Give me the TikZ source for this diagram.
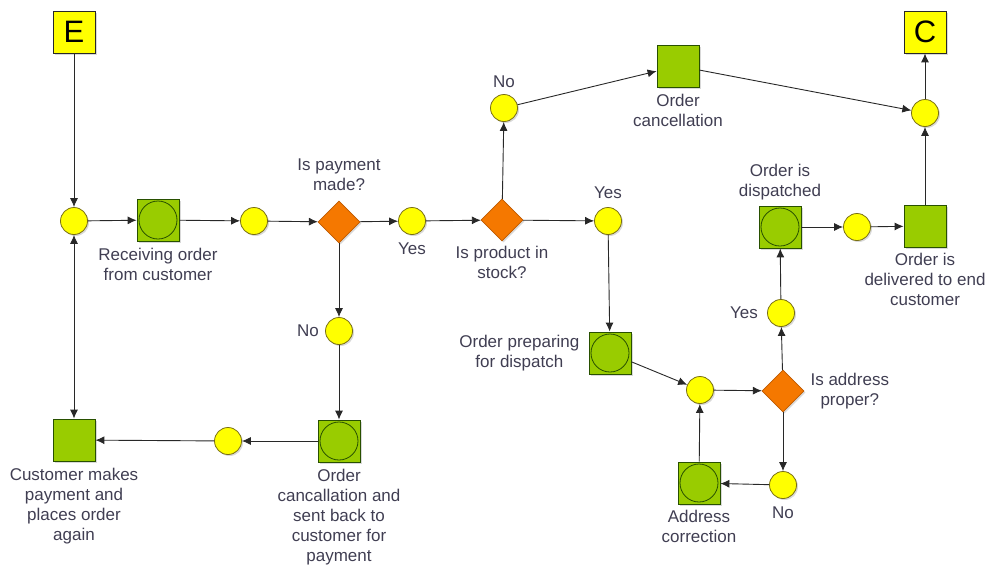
\documentclass[tikz,border=0pt]{standalone}
\usepackage{fontspec}
\setmainfont{Liberation Sans}
\usepackage{xcolor}
\usetikzlibrary{positioning,arrows.meta,shapes.geometric,shadows}

\definecolor{evtyellow}{RGB}{255,255,0}
\definecolor{evtedge}{RGB}{120,110,20}
\definecolor{actgreen}{RGB}{153,204,0}
\definecolor{actedge}{RGB}{40,80,0}
\definecolor{gateorange}{RGB}{245,120,0}
\definecolor{gateedge}{RGB}{190,90,0}
\definecolor{txtgray}{RGB}{64,62,82}
\definecolor{linegray}{RGB}{40,40,40}

\tikzset{
  shade/.style={drop shadow={shadow xshift=1.5pt, shadow yshift=-1.5pt, opacity=0.3}},
  conn/.style={circle, draw=evtedge, fill=evtyellow, line width=0.8pt,
    minimum size=27pt, inner sep=0pt, shade},
  task/.style={rectangle, draw=actedge, fill=actgreen, line width=0.8pt,
    minimum size=42pt, inner sep=0pt, shade},
  subtask/.style={task, path picture={
    \draw[actedge, line width=0.8pt] (path picture bounding box.center) circle (19pt);}},
  gate/.style={diamond, draw=gateedge, fill=gateorange, line width=0.8pt,
    minimum size=42pt, inner sep=0pt, shade},
  term/.style={rectangle, draw=linegray, fill=evtyellow, line width=0.8pt,
    minimum size=42pt, inner sep=0pt, font=\fontsize{31}{31}\selectfont, shade},
  caption/.style={align=center, text=txtgray, inner sep=1pt,
    font=\fontsize{17}{20}\selectfont},
  flow/.style={draw=linegray, line width=0.9pt, -{Latex[length=9pt,width=8pt]}},
  flow2/.style={flow, {Latex[length=9pt,width=8pt]}-{Latex[length=9pt,width=8pt]}}
}

\begin{document}
\begin{tikzpicture}[x=1pt,y=-1pt]
\useasboundingbox (0,0) rectangle (991,566);

% start and end markers
\node[term] (start) at (74,32) {E};
\node[term] (finish) at (925,32) {C};

% main row
\node[conn] (c1) at (74,221) {};
\node[subtask] (recv) at (158,220) {};
\node[conn] (c2) at (254,221) {};
\node[gate] (paid) at (339,222) {};
\node[conn] (c3) at (412,221) {};
\node[gate] (stock) at (502,220) {};
\node[conn] (c6) at (608,221) {};

% cancellation branch
\node[conn] (c4) at (504,108) {};
\node[task] (cancel) at (678,66) {};
\node[conn] (c5) at (925,113) {};

% dispatch branch
\node[subtask] (prep) at (610,353) {};
\node[conn] (c7) at (700,390) {};
\node[gate] (addr) at (783,391) {};
\node[conn] (c8) at (783,485) {};
\node[subtask] (fix) at (699,483) {};
\node[conn] (c9) at (781,313) {};
\node[subtask] (sent) at (780,227) {};
\node[conn] (c10) at (857,227) {};
\node[task] (deliv) at (925,226) {};

% payment failure branch
\node[conn] (c12) at (339,331) {};
\node[subtask] (back) at (339,441) {};
\node[conn] (c11) at (228,441) {};
\node[task] (cust) at (74,440) {};

% captions
\node[caption, below=6pt of recv] (recvtxt) {Receiving order\\from customer};
\node[caption, above=9pt of paid] (paidtxt) {Is payment\\made?};
\node[caption, below=7pt of c3] (yes1) {Yes};
\node[caption, below=4pt of stock] (stocktxt) {Is product in\\stock?};
\node[caption, above=5pt of c4] (no1) {No};
\node[caption, below=6pt of cancel] (canceltxt) {Order\\cancellation};
\node[caption, above=7pt of c6] (yes2) {Yes};
\node[caption, left=8pt of prep] (preptxt) {Order preparing\\for dispatch};
\node[caption, right=5pt of addr] (addrtxt) {Is address\\proper?};
\node[caption, below=7pt of c8] (no2) {No};
\node[caption, below=5pt of fix] (fixtxt) {Address\\correction};
\node[caption, left=8pt of c9] (yes3) {Yes};
\node[caption, above=4pt of sent] (senttxt) {Order is\\dispatched};
\node[caption, below=5pt of deliv] (delivtxt) {Order is\\delivered to end\\customer};
\node[caption, left=5pt of c12] (no3) {No};
\node[caption, below=6pt of back] (backtxt) {Order\\cancallation and\\sent back to\\customer for\\payment};
\node[caption, below=6pt of cust] (custtxt) {Customer makes\\payment and\\places order\\again};

% connectors
\foreach \a/\b in {start/c1, c1/recv, recv/c2, c2/paid, paid/c3, c3/stock, stock/c6,
  stock/c4, c4/cancel, cancel/c5, c5/finish,
  c6/prep, prep/c7, c7/addr, addr/c9, c9/sent, sent/c10, c10/deliv, deliv/c5,
  addr/c8, c8/fix, fix/c7,
  paid/c12, c12/back, back/c11, c11/cust}
  \draw[flow] (\a) -- (\b);
\draw[flow2] (c1) -- (cust);
\end{tikzpicture}
\end{document}
